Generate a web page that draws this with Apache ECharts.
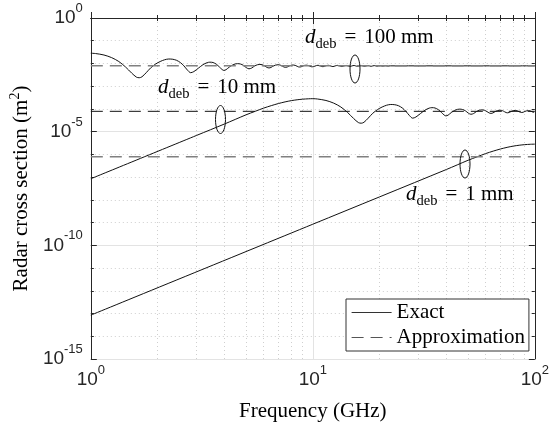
<!DOCTYPE html>
<html><head><meta charset="utf-8">
<script src="https://cdn.jsdelivr.net/npm/echarts@6/dist/echarts.min.js"></script>
<style>html,body{margin:0;padding:0;background:#fff}#c{width:552px;height:427px}</style>
</head><body><div id="c"></div>
<script>
// ---- data (frequency in GHz, RCS in m^2) ----
const f1mm = [1, 10, 40, 50, 55, 60, 65, 70, 75, 80, 85, 90, 95.49, 100];
const rcs1mm = [8.50e-14, 8.50e-10, 2.176e-7, 5.498e-7, 7.854e-7, 1.084e-6, 1.398e-6, 1.728e-6, 2.042e-6, 2.317e-6,
  2.529e-6, 2.686e-6, 2.788e-6, 2.827e-6];

const f10mm = [1, 3, 4, 5, 5.5, 6, 6.5, 7, 7.5, 8, 8.5, 9, 9.549, 10, 10.50, 11.46, 12.41, 13.37, 14.32, 15.28, 16.04, 16.52,
  17.00, 17.76, 18.62, 19.58, 20.53, 21.49, 22.44, 23.40, 24.35, 25.30, 26.26, 27.21, 28.17, 29.12, 30.56, 31.99, 33.42, 34.38,
  35.52, 36.76, 38.01, 38.96, 39.72, 40.68, 42.02, 43.45, 44.88, 45.84, 47.27, 48.70, 50.13, 51.56, 53.00, 54.62, 56.34, 57.77,
  59.20, 60.92, 62.26, 63.50, 64.74, 66.37, 67.99, 69.71, 71.43, 73.05, 74.29, 75.44, 76.68, 78.30, 80.02, 81.64, 83.27, 84.99,
  86.23, 87.37, 88.61, 90.24, 91.86, 93.58, 95.30, 96.92, 98.16, 99.31, 100];
const rcs10mm = [8.50e-8, 6.886e-6, 2.176e-5, 5.498e-5, 7.854e-5, 1.084e-4, 1.398e-4, 1.728e-4, 2.042e-4, 2.317e-4,
  2.529e-4, 2.686e-4, 2.788e-4, 2.827e-4, 2.733e-4, 2.356e-4,
  1.806e-4, 1.217e-4, 7.069e-5, 3.770e-5, 2.513e-5, 2.356e-5, 2.592e-5, 3.927e-5, 6.440e-5, 9.425e-5, 1.217e-4, 1.453e-4,
  1.571e-4, 1.532e-4, 1.374e-4, 1.100e-4, 7.854e-5, 5.184e-5, 3.927e-5, 4.398e-5, 6.283e-5, 8.796e-5, 1.084e-4, 1.139e-4,
  1.100e-4, 9.268e-5, 6.912e-5, 5.498e-5, 4.948e-5, 5.341e-5, 6.912e-5, 8.482e-5, 9.582e-5, 9.818e-5, 9.425e-5, 8.247e-5,
  6.597e-5, 5.812e-5, 6.283e-5, 7.697e-5, 8.796e-5, 9.111e-5, 8.796e-5, 7.618e-5, 6.676e-5, 6.362e-5, 6.676e-5, 7.697e-5,
  8.482e-5, 8.796e-5, 8.404e-5, 7.540e-5, 6.912e-5, 6.754e-5, 6.990e-5, 7.775e-5, 8.404e-5, 8.561e-5, 8.247e-5, 7.540e-5,
  7.069e-5, 6.990e-5, 7.147e-5, 7.775e-5, 8.247e-5, 8.404e-5, 8.168e-5, 7.618e-5, 7.226e-5, 7.147e-5, 7.226e-5];

const f100mm = [1.0, 1.050, 1.146, 1.241, 1.337, 1.432, 1.528, 1.604, 1.652, 1.700, 1.776, 1.862, 1.958, 2.053, 2.149, 2.244,
  2.340, 2.435, 2.530, 2.626, 2.721, 2.817, 2.912, 3.056, 3.199, 3.342, 3.438, 3.552, 3.676, 3.801, 3.896, 3.972, 4.068, 4.202,
  4.345, 4.488, 4.584, 4.727, 4.870, 5.013, 5.156, 5.300, 5.462, 5.634, 5.777, 5.920, 6.092, 6.226, 6.350, 6.474, 6.637, 6.799,
  6.971, 7.143, 7.305, 7.429, 7.544, 7.668, 7.830, 8.002, 8.164, 8.327, 8.499, 8.623, 8.737, 8.861, 9.024, 9.186, 9.358, 9.530,
  9.692, 9.816, 9.931, 10.0, 10.07, 10.22, 10.39, 10.55, 10.71, 10.89, 11.00, 11.12, 11.27, 11.43, 11.58, 11.75, 11.91, 12.06,
  12.32, 12.60, 12.94, 13.23, 13.51, 13.80, 14.13, 14.42, 14.71, 14.99, 15.33, 15.61, 15.90, 16.19, 16.52, 16.81, 17.09, 17.38,
  17.71, 18.00, 18.29, 18.62, 18.91, 19.48, 20.05, 20.63, 21.20, 21.77, 22.34, 28.65, 47.75, 100];
const rcs100mm = [2.827e-2, 2.733e-2, 2.356e-2, 1.806e-2, 1.217e-2, 7.069e-3, 3.770e-3, 2.513e-3, 2.356e-3, 2.592e-3,
  3.927e-3, 6.440e-3, 9.425e-3, 1.217e-2, 1.453e-2, 1.571e-2, 1.532e-2, 1.374e-2, 1.100e-2, 7.854e-3,
  5.184e-3, 3.927e-3, 4.398e-3, 6.283e-3, 8.796e-3, 1.084e-2, 1.139e-2, 1.100e-2, 9.268e-3, 6.912e-3,
  5.498e-3, 4.948e-3, 5.341e-3, 6.912e-3, 8.482e-3, 9.582e-3, 9.818e-3, 9.425e-3, 8.247e-3, 6.597e-3,
  5.812e-3, 6.283e-3, 7.697e-3, 8.796e-3, 9.111e-3, 8.796e-3, 7.618e-3, 6.676e-3, 6.362e-3, 6.676e-3,
  7.697e-3, 8.482e-3, 8.796e-3, 8.404e-3, 7.540e-3, 6.912e-3, 6.754e-3, 6.990e-3, 7.775e-3, 8.404e-3,
  8.561e-3, 8.247e-3, 7.540e-3, 7.069e-3, 6.990e-3, 7.147e-3, 7.775e-3, 8.247e-3, 8.404e-3, 8.168e-3,
  7.618e-3, 7.226e-3, 7.147e-3, 7.226e-3, 7.304e-3, 7.618e-3, 8.090e-3, 8.325e-3, 8.090e-3, 7.618e-3,
  7.304e-3, 7.226e-3, 7.461e-3, 7.854e-3, 8.168e-3, 8.286e-3, 8.090e-3, 7.697e-3, 7.304e-3, 7.775e-3,
  8.247e-3, 7.775e-3, 7.343e-3, 7.775e-3, 8.207e-3, 7.775e-3, 7.383e-3, 7.775e-3, 8.168e-3, 7.775e-3,
  7.422e-3, 7.775e-3, 8.129e-3, 7.775e-3, 7.461e-3, 7.775e-3, 8.090e-3, 7.775e-3, 7.500e-3, 7.815e-3,
  8.050e-3, 7.579e-3, 8.011e-3, 7.618e-3, 7.972e-3, 7.658e-3, 7.854e-3, 7.854e-3, 7.854e-3, 7.854e-3];

const approxFreq = [1, 100];
const approx1mm = [7.854e-7, 7.854e-7];
const approx10mm = [7.854e-5, 7.854e-5];
const approx100mm = [7.854e-3, 7.854e-3];

const xTickValues = [1, 10, 100];
const yTickExponents = [-15, -10, -5, 0];

// ---- chart ----
const pairs = (xs, ys) => xs.map((x, i) => [x, ys[i]]);
const AX = '#262626';
const SERIF = 'Liberation Serif';
const SANS = 'Liberation Sans';
const tickRich = {
  b: { fontFamily: SANS, fontSize: 19, color: AX, lineHeight: 32, verticalAlign: 'middle' },
  s: { fontFamily: SANS, fontSize: 13, color: AX, lineHeight: 13, verticalAlign: 'top' }
};
const supLabel = e => '{b|10}{s|' + e + '}';

const chart = echarts.init(document.getElementById('c'), null, { renderer: 'canvas' });

function exactSeries(xs, ys) {
  return { name: 'Exact', type: 'line', data: pairs(xs, ys), symbol: 'none', showSymbol: false, smooth: 0.3,
    xAxisIndex: 0, yAxisIndex: 0, itemStyle: { color: '#111' }, lineStyle: { color: '#111', width: 1 }, z: 3 };
}
function approxSeries(ys, color, width) {
  return { name: 'Approximation', type: 'line', data: pairs(approxFreq, ys), symbol: 'none', showSymbol: false,
    xAxisIndex: 0, yAxisIndex: 0, itemStyle: { color: color },
    lineStyle: { color: color, width: width, type: [12, 7] }, z: 4 };
}

const serifRich = {
  i: { fontFamily: SERIF, fontStyle: 'italic', fontSize: 21, lineHeight: 25, verticalAlign: 'top', color: '#000' },
  sub: { fontFamily: SERIF, fontSize: 14.5, lineHeight: 15, verticalAlign: 'bottom', color: '#000' },
  eq: { fontFamily: SERIF, fontSize: 21, lineHeight: 25, verticalAlign: 'top', color: '#000', padding: [0, 8, 0, 8] },
  n: { fontFamily: SERIF, fontSize: 21, lineHeight: 25, verticalAlign: 'top', color: '#000' }
};
function annot(left, top, value) {
  return { type: 'text', left: left, top: top, z: 10,
    style: { text: '{i|d}{sub|deb}{eq|=}{n|' + value + ' mm}', rich: serifRich } };
}
function ell(cx, cy) {
  return { type: 'ellipse', z: 10, shape: { cx: cx, cy: cy, rx: 5, ry: 14 },
    style: { fill: 'none', stroke: '#111', lineWidth: 1 } };
}

const option = {
  animation: false,
  backgroundColor: '#fff',
  grid: { left: 87, top: 18, width: 453, height: 341, containLabel: false },
  xAxis: [
    { type: 'log', logBase: 10, min: xTickValues[0], max: xTickValues[2], position: 'bottom',
      name: 'Frequency (GHz)', nameLocation: 'middle', nameGap: 42,
      nameTextStyle: { fontFamily: SERIF, fontSize: 21, color: '#000' },
      axisLine: { show: true, lineStyle: { color: AX, width: 1 } },
      axisTick: { show: true, inside: true, length: 6, lineStyle: { color: AX } },
      minorTick: { show: true, splitNumber: 9, length: 3, lineStyle: { color: AX } },
      axisLabel: { show: true, margin: 5, showMinLabel: true, showMaxLabel: true, rich: tickRich,
        formatter: v => supLabel(Math.round(Math.log10(v))) },
      splitLine: { show: true, lineStyle: { color: '#e3e3e3', width: 1 } },
      minorSplitLine: { show: true, lineStyle: { color: '#cfcfcf', width: 1, type: [1, 3] } } },
    { type: 'log', logBase: 10, min: xTickValues[0], max: xTickValues[2], position: 'top',
      axisLine: { show: true, lineStyle: { color: AX, width: 1 } },
      axisTick: { show: true, inside: true, length: 6, lineStyle: { color: AX } },
      minorTick: { show: true, splitNumber: 9, length: 3, lineStyle: { color: AX } },
      axisLabel: { show: false }, splitLine: { show: false } }
  ],
  yAxis: [
    { type: 'log', logBase: 10, min: Math.pow(10, yTickExponents[0]), max: Math.pow(10, yTickExponents[3]), show: false,
      splitLine: { show: false } },
    { type: 'value', min: yTickExponents[0], max: yTickExponents[3], interval: 5, position: 'left',
      name: '{t|Radar cross section (m}{p|2}{t|)}', nameLocation: 'middle', nameGap: 47, nameRotate: 90,
      nameTextStyle: { rich: {
        t: { fontFamily: SERIF, fontSize: 21, lineHeight: 27, verticalAlign: 'middle', color: '#000' },
        p: { fontFamily: SERIF, fontSize: 14, lineHeight: 14, verticalAlign: 'top', color: '#000' } } },
      axisLine: { show: true, lineStyle: { color: AX, width: 1 } },
      axisTick: { show: true, inside: true, length: 6, lineStyle: { color: AX } },
      minorTick: { show: true, splitNumber: 5, length: 3, lineStyle: { color: AX } },
      axisLabel: { show: true, margin: 8, rich: tickRich, formatter: v => supLabel(v) },
      splitLine: { show: true, lineStyle: { color: '#e3e3e3', width: 1 } },
      minorSplitLine: { show: true, lineStyle: { color: '#cfcfcf', width: 1, type: [1, 3] } } },
    { type: 'value', min: yTickExponents[0], max: yTickExponents[3], interval: 5, position: 'right',
      axisLine: { show: true, lineStyle: { color: AX, width: 1 } },
      axisTick: { show: true, inside: true, length: 6, lineStyle: { color: AX } },
      minorTick: { show: true, splitNumber: 5, length: 3, lineStyle: { color: AX } },
      axisLabel: { show: false }, splitLine: { show: false } }
  ],
  legend: {
    data: [{ name: 'Exact', lineStyle: { color: '#333', width: 1 } },
           { name: 'Approximation', lineStyle: { color: '#555', width: 1.2 } }],
    orient: 'vertical', left: 346, top: 299,
    padding: [3, 4, 3, 5], itemWidth: 40, itemHeight: 12, itemGap: 4,
    backgroundColor: '#fff', borderColor: '#333', borderWidth: 1, borderRadius: 0,
    itemStyle: { opacity: 0, color: 'rgba(0,0,0,0)', borderWidth: 0 },
    textStyle: { fontFamily: SERIF, fontSize: 21, color: '#000', lineHeight: 21 },
    selectedMode: false
  },
  series: [
    exactSeries(f100mm, rcs100mm),
    exactSeries(f10mm, rcs10mm),
    exactSeries(f1mm, rcs1mm),
    approxSeries(approx100mm, '#808080', 1.5),
    approxSeries(approx10mm, '#111', 1),
    approxSeries(approx1mm, '#808080', 1.5)
  ],
  graphic: [
    annot(305, 27, '100'),
    annot(158, 77, '10'),
    annot(406, 184, '1'),
    ell(355, 69),
    ell(220.5, 119.5),
    ell(465, 164)
  ]
};
chart.setOption(option);
</script></body></html>
